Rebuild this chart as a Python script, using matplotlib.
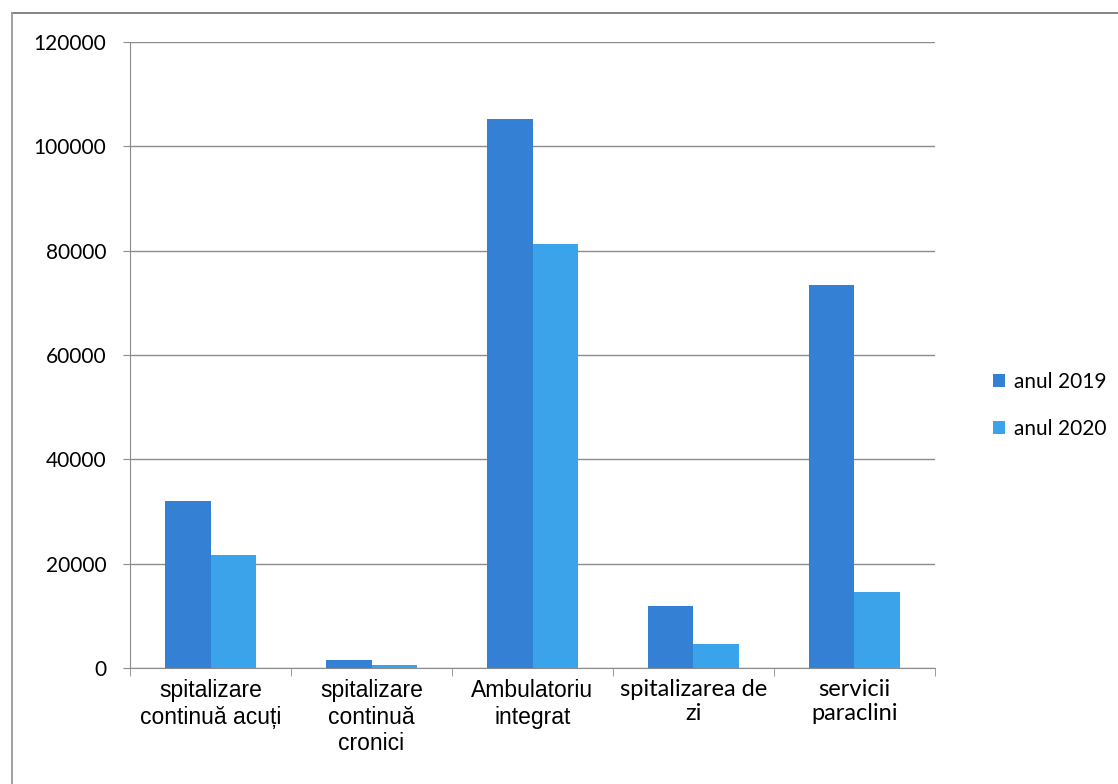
import matplotlib.pyplot as plt
import numpy as np
from matplotlib.lines import Line2D

categories = ["spitalizare\ncontinuă acuți", "spitalizare\ncontinuă\ncronici",
              "Ambulatoriu\nintegrat", "spitalizarea de\nzi", "servicii\nparaclini"]
values_2019 = [32000, 1500, 105300, 11800, 73500]
values_2020 = [21600, 500, 81300, 4500, 14500]
series_names = ["anul 2019", "anul 2020"]

colors = ["#3380d4", "#3aa3ea"]
grey = "#8c8c8c"

fig = plt.figure(figsize=(11.18, 7.84), dpi=100)
ax = fig.add_axes([0.1163, 0.148, 0.72, 0.7984])

x = np.arange(len(categories))
w = 0.283
ax.bar(x - w / 2, values_2019, w, color=colors[0], label=series_names[0], zorder=3)
ax.bar(x + w / 2, values_2020, w, color=colors[1], label=series_names[1], zorder=3)

ax.set_xlim(-0.5, len(categories) - 0.5)
ax.set_ylim(0, 120000)
ax.set_yticks(np.arange(0, 120001, 20000))
ax.yaxis.grid(True, color=grey, linewidth=1.0, zorder=0)
ax.tick_params(axis="y", labelsize=15, length=5, color=grey, pad=12)
for lbl in ax.get_yticklabels():
    lbl.set_family("Lato")

# category labels centred, tick marks at the category boundaries
ax.set_xticks(x)
ax.set_xticklabels(categories, linespacing=1.2)
ax.tick_params(axis="x", length=0, pad=8)
for i, lbl in enumerate(ax.get_xticklabels()):
    if i < 3:
        lbl.set_family("Liberation Sans")
        lbl.set_fontsize(16.5)
    else:
        lbl.set_family("Lato")
        lbl.set_fontsize(17)
ax.set_xticks(np.arange(-0.5, len(categories)), minor=True)
ax.tick_params(axis="x", which="minor", length=6, color=grey)

for side in ["top", "right"]:
    ax.spines[side].set_visible(False)
for side in ["left", "bottom"]:
    ax.spines[side].set_color(grey)

ax.legend(loc="center left", bbox_to_anchor=(1.072, 0.42), frameon=False,
          prop={"family": "Lato", "size": 15}, handlelength=0.6, handleheight=0.6,
          handletextpad=0.4, labelspacing=1.3, borderpad=0, borderaxespad=0)

# outer chart frame (top and left edges visible)
fig.add_artist(Line2D([0.011, 1.0], [0.983, 0.983], transform=fig.transFigure,
                      color="#7a7a7a", linewidth=1.3))
fig.add_artist(Line2D([0.011, 0.011], [0.0, 0.983], transform=fig.transFigure,
                      color="#9a9a9a", linewidth=1.3))

fig.savefig("out.png", dpi=100)
